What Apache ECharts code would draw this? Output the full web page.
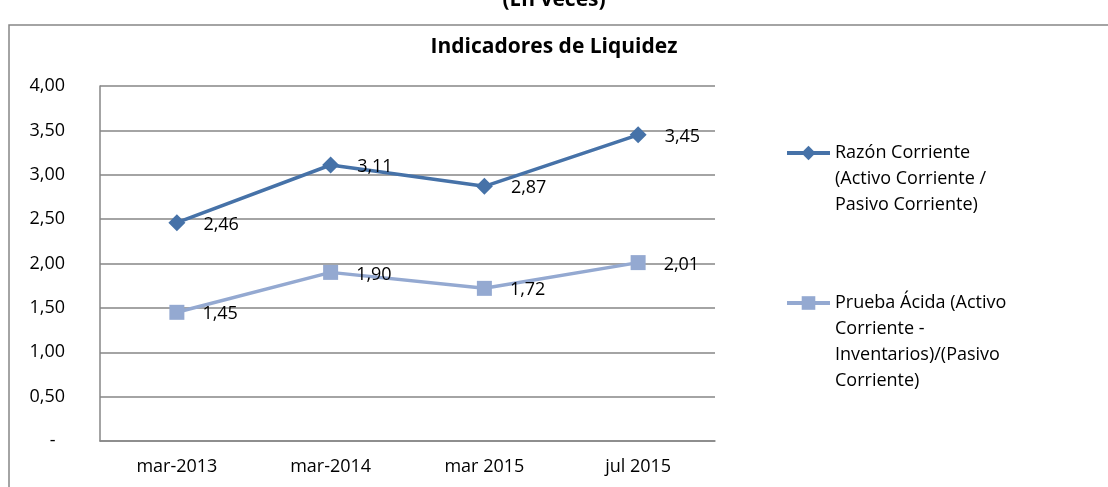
<!DOCTYPE html>
<html>
<head>
<meta charset="utf-8">
<script src="https://cdn.jsdelivr.net/npm/echarts@6/dist/echarts.min.js"></script>
<style>
  html, body { margin: 0; padding: 0; background: #fff; }
  #chart { width: 1108px; height: 487px; }
</style>
</head>
<body>
<div id="chart"></div>
<script>
// datos
const categorias = ['mar-2013', 'mar-2014', 'mar 2015', 'jul 2015'];
const razonCorriente = [2.46, 3.11, 2.87, 3.45];
const pruebaAcida = [1.45, 1.90, 1.72, 2.01];
const nombreRazon = 'Razón Corriente\n(Activo Corriente /\nPasivo Corriente)';
const nombreAcida = 'Prueba Ácida (Activo\nCorriente -\nInventarios)/(Pasivo\nCorriente)';

const fuente = '"Open Sans", "Noto Sans", sans-serif';
const coma = v => v.toFixed(2).replace('.', ',');
// lineas vacias delante para que el icono quede a la altura de la primera linea
const alinear = name => '\n'.repeat(name.split('\n').length - 1) + name;

const chart = echarts.init(document.getElementById('chart'));

const option = {
    backgroundColor: '#fff',
    animation: false,
    textStyle: { fontFamily: fuente },
    title: [
        {
            text: '(En veces)',
            left: 'center',
            top: -15,
            textStyle: { fontFamily: fuente, fontSize: 21, fontWeight: 'bold', color: '#000' }
        },
        {
            text: 'Indicadores de Liquidez',
            left: 'center',
            top: 32,
            textStyle: { fontFamily: fuente, fontSize: 21, fontWeight: 'bold', color: '#000' }
        }
    ],
    graphic: [
        {
            type: 'rect',
            shape: { x: 9, y: 25, width: 1120, height: 480 },
            style: { fill: 'none', stroke: '#868686', lineWidth: 1.5 },
            silent: true,
            z: -1
        }
    ],
    legend: [
        {
            data: [nombreRazon],
            formatter: alinear,
            left: 785,
            top: 88,
            padding: 0,
            itemWidth: 43,
            itemHeight: 18,
            lineStyle: { width: 4 },
            textStyle: { fontFamily: fuente, fontSize: 18, color: '#000', lineHeight: 26 }
        },
        {
            data: [nombreAcida],
            formatter: alinear,
            left: 785,
            top: 212,
            padding: 0,
            itemWidth: 43,
            itemHeight: 17,
            lineStyle: { width: 4 },
            textStyle: { fontFamily: fuente, fontSize: 18, color: '#000', lineHeight: 26 }
        }
    ],
    grid: { left: 100, right: 393, top: 86, bottom: 46 },
    xAxis: {
        type: 'category',
        data: categorias,
        boundaryGap: true,
        axisLine: { lineStyle: { color: '#868686', width: 1.5 } },
        axisTick: { show: false },
        axisLabel: { fontFamily: fuente, fontSize: 18, color: '#000', margin: 17 }
    },
    yAxis: {
        type: 'value',
        min: 0,
        max: 4,
        interval: 0.5,
        axisLine: { show: true, lineStyle: { color: '#868686', width: 1.5 } },
        axisTick: { show: false },
        axisLabel: {
            fontFamily: fuente,
            fontSize: 18,
            color: '#000',
            margin: 35,
            formatter: v => (v === 0 ? '-  ' : coma(v))
        },
        splitLine: { lineStyle: { color: '#868686', width: 1.5 } }
    },
    series: [
        {
            name: nombreRazon,
            type: 'line',
            data: razonCorriente,
            symbol: 'diamond',
            symbolSize: 17,
            itemStyle: { color: '#4672A8' },
            lineStyle: { color: '#4672A8', width: 3.5 },
            label: {
                show: true,
                position: 'right',
                distance: 18,
                offset: [0, 2],
                fontFamily: fuente,
                fontSize: 18,
                color: '#000',
                formatter: p => coma(p.value)
            }
        },
        {
            name: nombreAcida,
            type: 'line',
            data: pruebaAcida,
            symbol: 'rect',
            symbolSize: 15,
            itemStyle: { color: '#94A9D1' },
            lineStyle: { color: '#94A9D1', width: 3.5 },
            label: {
                show: true,
                position: 'right',
                distance: 18,
                offset: [0, 2],
                fontFamily: fuente,
                fontSize: 18,
                color: '#000',
                formatter: p => coma(p.value)
            }
        }
    ]
};

chart.setOption(option);
</script>
</body>
</html>
